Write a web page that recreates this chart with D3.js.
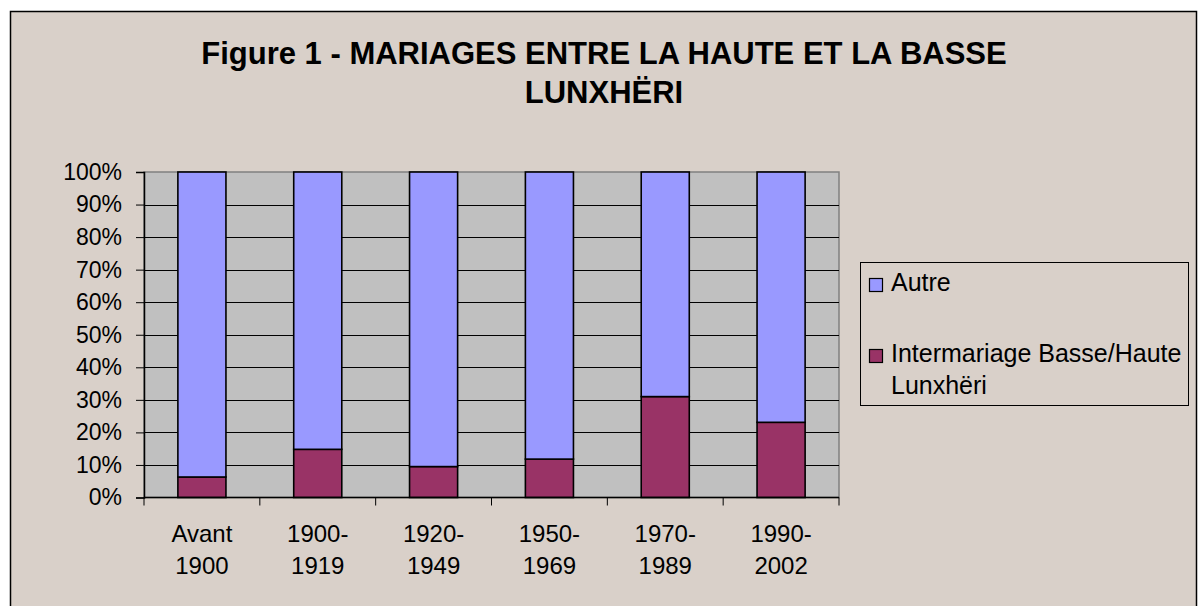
<html>
<head>
<style>
    body { margin: 0; background: #ffffff; }
    svg { display: block; font-family: "Liberation Sans", Arial, sans-serif; }
</style>
</head>
<body>
<svg id="chart" width="1198" height="606"></svg>
<script src="https://cdnjs.cloudflare.com/ajax/libs/d3/7.8.5/d3.min.js"></script>
<script>
    // data (percent)
    var categories = [["Avant", "1900"], ["1900-", "1919"], ["1920-", "1949"], ["1950-", "1969"], ["1970-", "1989"], ["1990-", "2002"]];
    var intermariage = [6.3, 14.8, 9.5, 11.8, 31.0, 23.1];
    var autre = [93.7, 85.2, 90.5, 88.2, 69.0, 76.9];
    var yTicks = [0, 10, 20, 30, 40, 50, 60, 70, 80, 90, 100];
    var seriesNames = ["Intermariage Basse/Haute Lunxhëri", "Autre"];
    var seriesColors = ["#993366", "#9999ff"];

    var svg = d3.select("#chart");

    // chart area
    svg.append("rect")
        .attr("x", 10.5).attr("y", 11.5)
        .attr("width", 1186).attr("height", 610)
        .attr("fill", "#d9d0c9")
        .attr("stroke", "#000").attr("stroke-width", 1.5);

    // title
    var title = svg.append("text")
        .attr("text-anchor", "middle")
        .attr("font-weight", "bold")
        .attr("font-size", 31);
    title.append("tspan").attr("x", 604).attr("y", 64).text("Figure 1 - MARIAGES ENTRE LA HAUTE ET LA BASSE");
    title.append("tspan").attr("x", 604).attr("y", 103).text("LUNXHËRI");

    var plotL = 144, plotR = 839, plotT = 172, plotB = 497.5;

    var x = d3.scaleBand()
        .domain(d3.range(categories.length))
        .range([plotL, plotR])
        .paddingInner(0.585)
        .paddingOuter(0.2925);

    var y = d3.scaleLinear().domain([0, 100]).range([plotB, plotT]);

    // plot background
    svg.append("rect")
        .attr("x", plotL).attr("y", plotT)
        .attr("width", plotR - plotL).attr("height", plotB - plotT)
        .attr("fill", "#c0c0c0")
        .attr("stroke", "#808080").attr("stroke-width", 1.5);

    // gridlines
    svg.append("g")
        .selectAll("line")
        .data(yTicks.slice(1, -1))
        .join("line")
        .attr("x1", plotL).attr("x2", plotR)
        .attr("y1", d => Math.round(y(d)) + 0.5).attr("y2", d => Math.round(y(d)) + 0.5)
        .attr("stroke", "#000").attr("stroke-width", 1);

    // stacked bars
    var rows = categories.map((c, i) => ({ i: i, a: intermariage[i], b: autre[i] }));
    var stack = d3.stack().keys(["a", "b"])(rows);

    svg.append("g")
        .selectAll("g")
        .data(stack)
        .join("g")
        .attr("fill", (d, k) => seriesColors[k])
        .selectAll("rect")
        .data(d => d)
        .join("rect")
        .attr("x", d => x(d.data.i))
        .attr("width", x.bandwidth())
        .attr("y", d => y(d[1]))
        .attr("height", d => y(d[0]) - y(d[1]))
        .attr("stroke", "#000").attr("stroke-width", 1.6);

    // y axis
    var yAxis = svg.append("g")
        .attr("transform", "translate(" + plotL + ",0)")
        .call(d3.axisLeft(y).tickValues(yTicks).tickFormat(d => d + "%").tickSize(8).tickPadding(14));
    yAxis.select(".domain").attr("stroke", "#000").attr("stroke-width", 1.5);
    yAxis.selectAll(".tick line").attr("stroke", "#000");
    yAxis.selectAll(".tick text")
        .attr("font-size", 23).attr("fill", "#000")
        .attr("font-family", "Liberation Sans, Arial, sans-serif");

    // x axis: ticks on category boundaries
    var xAxis = svg.append("g");
    xAxis.append("line")
        .attr("x1", plotL).attr("x2", plotR)
        .attr("y1", plotB).attr("y2", plotB)
        .attr("stroke", "#000").attr("stroke-width", 1.5);
    xAxis.selectAll(".xt")
        .data(d3.range(categories.length + 1))
        .join("line")
        .attr("class", "xt")
        .attr("x1", i => plotL + i * x.step()).attr("x2", i => plotL + i * x.step())
        .attr("y1", plotB).attr("y2", plotB + 8)
        .attr("stroke", "#000").attr("stroke-width", 1);
    var xl = xAxis.selectAll(".xl")
        .data(categories)
        .join("text")
        .attr("class", "xl")
        .attr("text-anchor", "middle")
        .attr("font-size", 24);
    xl.append("tspan").attr("x", (d, i) => x(i) + x.bandwidth() / 2).attr("y", 542).text(d => d[0]);
    xl.append("tspan").attr("x", (d, i) => x(i) + x.bandwidth() / 2).attr("y", 574).text(d => d[1]);

    // legend
    var legend = svg.append("g");
    legend.append("rect")
        .attr("x", 860.5).attr("y", 262.5)
        .attr("width", 328).attr("height", 143)
        .attr("fill", "none").attr("stroke", "#000").attr("stroke-width", 1);
    var legendItems = [
        { color: seriesColors[1], lines: ["Autre"], y: 278 },
        { color: seriesColors[0], lines: ["Intermariage Basse/Haute", "Lunxhëri"], y: 349 }
    ];
    legendItems.forEach(function (it) {
        legend.append("rect")
            .attr("x", 869.5).attr("y", it.y + 0.5)
            .attr("width", 13).attr("height", 13)
            .attr("fill", it.color).attr("stroke", "#000").attr("stroke-width", 1.2);
        var t = legend.append("text").attr("font-size", 25);
        it.lines.forEach(function (ln, j) {
            t.append("tspan").attr("x", 891).attr("y", it.y + 13 + j * 32).text(ln);
        });
    });
</script>
</body>
</html>
